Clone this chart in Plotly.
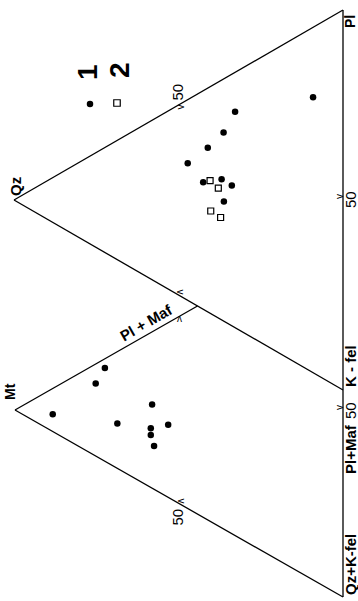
import plotly.graph_objects as go

# ---------------- data (percent) ----------------
# Upper diagram: Qz - Pl - K-fel
top1_qz = [9.1, 32.8, 36.3, 41.1, 47.2, 42.5, 36.9, 33.8, 36.2]
top1_pl = [72.5, 56.8, 49.6, 43.2, 36.1, 33.4, 37.0, 36.9, 31.5]
top1_kf = [18.4, 10.4, 14.1, 15.7, 16.7, 24.1, 26.1, 29.3, 32.3]
top2_qz = [40.4, 37.9, 40.2, 37.2]
top2_pl = [34.9, 34.2, 27.0, 26.8]
top2_kf = [24.7, 27.9, 32.8, 36.0]

# Lower diagram: Mt - (Pl+Maf) - (Qz+K-fel)
bot1_mt = [72.6, 75.4, 88.5, 68.8, 58.2, 53.3, 58.6, 58.6, 57.6]
bot1_pm = [24.9, 19.4, 4.6, 12.0, 22.4, 19.4, 15.8, 14.0, 11.6]
bot1_qk = [2.5, 5.2, 6.9, 19.2, 19.4, 27.3, 25.6, 27.4, 30.8]

legend_labels = ["1", "2"]
vertex_top = ["Qz", "Pl", "K - fel"]
vertex_bot = ["Mt", "Pl + Maf", "Qz+K-fel"]

# ---------------- geometry ----------------
QZ, PL, KF = (14, 200), (343, 10), (343, 390)
MT, PM, QK = (15, 410), (343, 223), (343, 597)


def tern(a, b, c, A, B, C):
    xs, ys = [], []
    for i, j, k in zip(a, b, c):
        s = i + j + k
        xs.append((i * A[0] + j * B[0] + k * C[0]) / s)
        ys.append((i * A[1] + j * B[1] + k * C[1]) / s)
    return xs, ys


def intersect(p1, p2, p3, p4):
    x1, y1 = p1; x2, y2 = p2; x3, y3 = p3; x4, y4 = p4
    d = (x1 - x2) * (y3 - y4) - (y1 - y2) * (x3 - x4)
    t = ((x1 - x3) * (y3 - y4) - (y1 - y3) * (x3 - x4)) / d
    return (x1 + t * (x2 - x1), y1 + t * (y2 - y1))


cut = intersect(MT, PM, QZ, KF)

fig = go.Figure()

# frame lines
lx = [PL[0], QK[0], None, QZ[0], PL[0], None, QZ[0], KF[0], None,
      MT[0], cut[0], None, MT[0], QK[0]]
ly = [PL[1], QK[1], None, QZ[1], PL[1], None, QZ[1], KF[1], None,
      MT[1], cut[1], None, MT[1], QK[1]]
fig.add_trace(go.Scatter(x=lx, y=ly, mode="lines",
                         line=dict(color="black", width=1.3),
                         hoverinfo="skip", showlegend=False))

x, y = tern(top1_qz, top1_pl, top1_kf, QZ, PL, KF)
fig.add_trace(go.Scatter(x=x, y=y, mode="markers", showlegend=False,
                         marker=dict(symbol="circle", size=6.5, color="black")))
x, y = tern(top2_qz, top2_pl, top2_kf, QZ, PL, KF)
fig.add_trace(go.Scatter(x=x, y=y, mode="markers", showlegend=False,
                         marker=dict(symbol="square-open", size=6, color="black",
                                     line=dict(width=1.2, color="black"))))
x, y = tern(bot1_mt, bot1_pm, bot1_qk, MT, PM, QK)
fig.add_trace(go.Scatter(x=x, y=y, mode="markers", showlegend=False,
                         marker=dict(symbol="circle", size=6.5, color="black")))

# legend symbols
fig.add_trace(go.Scatter(x=[90], y=[104], mode="markers", showlegend=False,
                         marker=dict(symbol="circle", size=6.5, color="black")))
fig.add_trace(go.Scatter(x=[117], y=[103], mode="markers", showlegend=False,
                         marker=dict(symbol="square-open", size=6.5, color="black",
                                     line=dict(width=1.2, color="black"))))

FONT = "Liberation Sans, Arial, sans-serif"


def ann(text, x, y, size=12, angle=-90, bold=True):
    t = "<b>%s</b>" % text if bold else text
    fig.add_annotation(x=x, y=y, xref="x", yref="y", text=t, showarrow=False,
                       textangle=angle, font=dict(family=FONT, size=size, color="black"))


mid = lambda a, b: ((a[0] + b[0]) / 2, (a[1] + b[1]) / 2)

ann(vertex_top[0], 15, 187, 15)
ann(vertex_top[1], 350, 22, 14)
ann(vertex_top[2], 350, 366, 15)
ann(vertex_bot[0], 10, 392, 14)
ann(vertex_bot[1], 146, 322, 15, angle=-30)
ann(vertex_bot[2], 350, 565, 15)
ann("Pl+Maf", 350, 449, 15)

m = mid(QZ, PL)
ann("50", m[0] - 2, m[1] - 13, 15, bold=False)
ann("v", m[0] + 1, m[1] + 2, 10, angle=-90, bold=False)
m = mid(PL, KF)
ann("50", m[0] + 7, m[1], 15, bold=False)
ann("v", m[0] - 4, m[1] - 3, 10, angle=-90, bold=False)
m = mid(QZ, KF)
ann("v", m[0] + 2, m[1] - 3, 10, angle=90, bold=False)
m = mid(MT, PM)
ann("v", m[0] + 1, m[1] + 3, 10, angle=180, bold=False)
m = mid(PM, QK)
ann("50", m[0] + 7, m[1] + 1, 15, bold=False)
ann("v", m[0] - 4, m[1] - 2, 10, angle=-90, bold=False)
m = mid(MT, QK)
ann("50", m[0] - 2, m[1] + 14, 15, bold=False)
ann("v", m[0] + 2, m[1] - 3, 10, angle=90, bold=False)

ann(legend_labels[0], 87, 72, 28)
ann(legend_labels[1], 119, 70, 28)

fig.update_layout(
    width=358, height=601, margin=dict(l=0, r=0, t=0, b=0),
    paper_bgcolor="white", plot_bgcolor="white",
    xaxis=dict(range=[0, 358], visible=False, fixedrange=True),
    yaxis=dict(range=[601, 0], visible=False, fixedrange=True),
)
fig.write_html("out.html")
